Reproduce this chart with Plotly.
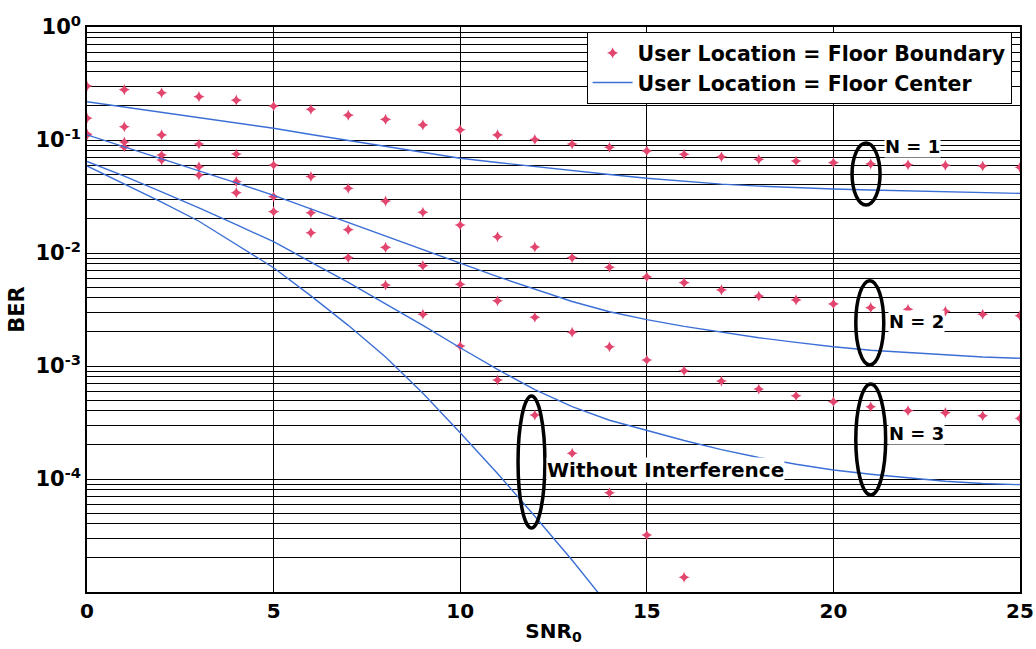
import plotly.graph_objects as go

# SNR_0 grid (x axis)
snr = list(range(26))
snr_free = list(range(15))
snr_free_edge = list(range(17))

# Floor center (blue lines)
center_n1 = [0.218, 0.196, 0.176, 0.157, 0.141, 0.127, 0.112, 0.0993, 0.0879, 0.0778,
             0.0689, 0.0632, 0.0581, 0.0537, 0.0495, 0.0459, 0.0431, 0.0407, 0.0391, 0.0378,
             0.0368, 0.0361, 0.0354, 0.0348, 0.0342, 0.0337]
center_n2 = [0.111, 0.0871, 0.0676, 0.0537, 0.0417, 0.0324, 0.0245, 0.0186, 0.0141, 0.0107,
             0.00813, 0.00617, 0.00479, 0.00372, 0.00302, 0.00257, 0.00224, 0.00200, 0.00178, 0.00162,
             0.00148, 0.00138, 0.00132, 0.00126, 0.00120, 0.00117]
center_n3 = [0.0646, 0.0479, 0.0347, 0.0251, 0.0178, 0.0126, 0.00832, 0.00550, 0.00355, 0.00229,
             0.00145, 9.33e-4, 6.17e-4, 4.37e-4, 3.31e-4, 2.69e-4, 2.19e-4, 1.82e-4, 1.55e-4, 1.35e-4,
             1.20e-4, 1.10e-4, 1.02e-4, 9.55e-5, 9.12e-5, 8.91e-5]
center_free = [0.0589, 0.0407, 0.0282, 0.0191, 0.0120, 0.00741, 0.00417, 0.00229, 0.00120, 5.75e-4,
               2.57e-4, 1.12e-4, 4.68e-5, 1.91e-5, 7.4e-6]

# Floor boundary (red markers)
edge_n1 = [0.300, 0.279, 0.262, 0.242, 0.225, 0.200, 0.187, 0.166, 0.152, 0.136,
           0.123, 0.111, 0.101, 0.0922, 0.0861, 0.0800, 0.0747, 0.0711, 0.0675, 0.0652,
           0.0630, 0.0614, 0.0604, 0.0597, 0.0589, 0.0573]
edge_n2 = [0.156, 0.131, 0.111, 0.0922, 0.0752, 0.0601, 0.0475, 0.0374, 0.0288, 0.0229,
           0.0177, 0.0139, 0.0113, 0.00908, 0.00747, 0.00614, 0.00546, 0.00471, 0.00416, 0.00384,
           0.00354, 0.00328, 0.00318, 0.00305, 0.00287, 0.00279]
edge_n3 = [0.113, 0.0960, 0.0737, 0.0580, 0.0428, 0.0315, 0.0227, 0.0161, 0.0112, 0.00772,
           0.00528, 0.00378, 0.00270, 0.00199, 0.00148, 0.00113, 9.08e-4, 7.36e-4, 6.25e-4, 5.45e-4,
           4.83e-4, 4.36e-4, 4.02e-4, 3.86e-4, 3.63e-4, 3.44e-4]
edge_free = [0.111, 0.0867, 0.0665, 0.0490, 0.0342, 0.0232, 0.0151, 0.00908, 0.00521, 0.00287,
             0.00150, 7.52e-4, 3.68e-4, 1.69e-4, 7.55e-5, 3.19e-5, 1.35e-5]

y_ticks = [1e-4, 1e-3, 1e-2, 1e-1, 1]
y_tick_text = ['10<sup>-4</sup>', '10<sup>-3</sup>', '10<sup>-2</sup>', '10<sup>-1</sup>', '10<sup>0</sup>']
x_ticks = [0, 5, 10, 15, 20, 25]

minor_y = [k * 10.0 ** e for e in range(-5, 0) for k in range(2, 10)]

FONT = 'DejaVu Sans, Arial, sans-serif'
RED = '#e2466f'
BLUE = '#3b6fd6'

fig = go.Figure()

edges = [(snr, edge_n1), (snr, edge_n2), (snr, edge_n3), (snr_free_edge, edge_free)]
centers = [(snr, center_n1), (snr, center_n2), (snr, center_n3), (snr_free, center_free)]

for i, (xs, ys) in enumerate(edges):
    fig.add_trace(go.Scatter(
        x=xs, y=ys, mode='markers',
        name='User Location = Floor Boundary',
        showlegend=(i == 0), legendrank=1,
        marker=dict(symbol='star-diamond', size=8, color=RED)
    ))

for i, (xs, ys) in enumerate(centers):
    fig.add_trace(go.Scatter(
        x=xs, y=ys, mode='lines',
        name='User Location = Floor Center',
        showlegend=(i == 0), legendrank=2,
        line=dict(color=BLUE, width=1.4)
    ))

# ellipses around the groups
ellipses = [
    (20.5, 21.25, 0.0266, 0.094),
    (20.6, 21.35, 1.02e-3, 5.69e-3),
    (20.6, 21.4, 7.21e-5, 6.93e-4),
    (11.55, 12.27, 3.68e-5, 5.43e-4),
]
for x0, x1, y0, y1 in ellipses:
    fig.add_shape(type='circle', xref='x', yref='y', x0=x0, x1=x1, y0=y0, y1=y1,
                  line=dict(color='black', width=3.5))

labels = [
    ('N = 1', 21.35, -1.06, 18),
    ('N = 2', 21.45, -2.61, 18),
    ('N = 3', 21.45, -3.60, 18),
    ('Without Interference', 12.3, -3.92, 20),
]
for text, x, ylog, size in labels:
    fig.add_annotation(x=x, y=ylog, xref='x', yref='y', text=text, showarrow=False,
                       xanchor='left', yanchor='middle', bgcolor='white', borderpad=0,
                       font=dict(family=FONT, size=size, color='black', weight='bold'))

fig.update_layout(
    width=1036, height=649,
    margin=dict(l=87, r=16, t=27, b=57),
    paper_bgcolor='white', plot_bgcolor='white',
    font=dict(family=FONT, color='black', size=20, weight='bold'),
    showlegend=True,
    legend=dict(
        x=0.991, y=0.991, xanchor='right', yanchor='top',
        bgcolor='white', bordercolor='black', borderwidth=1,
        font=dict(family=FONT, size=20.5, weight='bold'),
        tracegroupgap=0, itemwidth=40
    )
)

fig.update_xaxes(
    range=[0, 25], tickvals=x_ticks, showgrid=True, gridcolor='black', gridwidth=1,
    showline=True, linecolor='black', linewidth=1.5, mirror=True, zeroline=False,
    tickfont=dict(size=20, weight='bold'), ticks='', automargin=False,
    title=dict(text='SNR<sub>0</sub>', font=dict(size=20, weight='bold'), standoff=2)
)
fig.update_yaxes(
    type='log', range=[-5, 0], tickvals=y_ticks, ticktext=y_tick_text,
    showgrid=True, gridcolor='black', gridwidth=1,
    minor=dict(tickvals=minor_y, showgrid=True, gridcolor='black', gridwidth=1, ticks=''),
    showline=True, linecolor='black', linewidth=1.5, mirror=True, zeroline=False,
    tickfont=dict(size=21, weight='bold'), ticks='', automargin=False,
    title=dict(text='BER', font=dict(size=21, weight='bold'), standoff=5)
)

fig.write_html('out.html', config={'displayModeBar': False},
               post_script="document.body.style.margin='0';")
